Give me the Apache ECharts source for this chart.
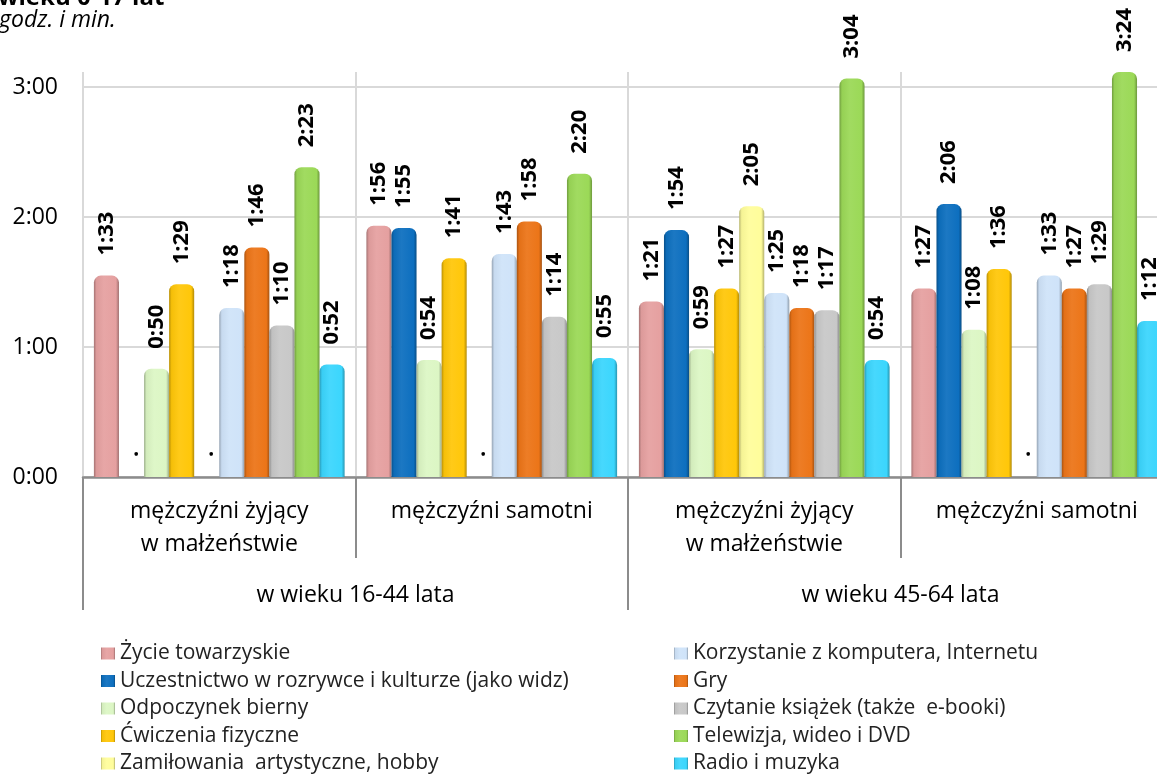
<!DOCTYPE html>
<html>
<head>
<meta charset="utf-8">
<script src="https://cdn.jsdelivr.net/npm/echarts@6/dist/echarts.min.js"></script>
<style>
  html, body { margin: 0; padding: 0; background: #fff; }
  #chart { width: 1157px; height: 777px; }
</style>
</head>
<body>
<div id="chart"></div>
<script>
// kategorie osi X (dwa poziomy)
const groups = ['mężczyźni żyjący\nw małżeństwie', 'mężczyźni samotni', 'mężczyźni żyjący\nw małżeństwie', 'mężczyźni samotni']
const ageGroups = ['w wieku 16-44 lata', 'w wieku 45-64 lata']

const seriesNames = [
  'Życie towarzyskie',
  'Uczestnictwo w rozrywce i kulturze (jako widz)',
  'Odpoczynek bierny',
  'Ćwiczenia fizyczne',
  'Zamiłowania  artystyczne, hobby',
  'Korzystanie z komputera, Internetu',
  'Gry',
  'Czytanie książek (także  e-booki)',
  'Telewizja, wideo i DVD',
  'Radio i muzyka'
]

// wartości w minutach, null = brak danych (kropka)
const zycie = [93, 116, 81, 87]
const uczestnictwo = [null, 115, 114, 126]
const odpoczynek = [50, 54, 59, 68]
const cwiczenia = [89, 101, 87, 96]
const zamilowania = [null, null, 125, null]
const komputer = [78, 103, 85, 93]
const gry = [106, 118, 78, 87]
const czytanie = [70, 74, 77, 89]
const telewizja = [143, 140, 184, 204]
const radio = [52, 55, 54, 72]

const yTicks = [0, 60, 120, 180]

const seriesValues = [zycie, uczestnictwo, odpoczynek, cwiczenia, zamilowania, komputer, gry, czytanie, telewizja, radio]
const colors = ['#E5A0A0', '#0D6FBF', '#DCF6C4', '#FFC709', '#FFFD9B', '#CFE3F9', '#EC7518', '#C8C8C8', '#9BD957', '#3BD6FD']

const FONT = '"Open Sans", "DejaVu Sans", sans-serif'

const fmtTime = (m) => Math.floor(m / 60) + ':' + String(Math.round(m % 60)).padStart(2, '0')

// przyciemnienie / rozjaśnienie koloru
const shade = (hex, f) => {
  const n = parseInt(hex.slice(1), 16)
  let r = (n >> 16) & 255, g = (n >> 8) & 255, b = n & 255
  if (f < 0) {
    r = Math.round(r * (1 + f)); g = Math.round(g * (1 + f)); b = Math.round(b * (1 + f))
  } else {
    r = Math.round(r + (255 - r) * f); g = Math.round(g + (255 - g) * f); b = Math.round(b + (255 - b) * f)
  }
  return 'rgb(' + r + ',' + g + ',' + b + ')'
}

const cylinder = (c) => new echarts.graphic.LinearGradient(0, 0, 1, 0, [
  { offset: 0, color: shade(c, -0.28) },
  { offset: 0.1, color: shade(c, -0.04) },
  { offset: 0.4, color: shade(c, 0.06) },
  { offset: 0.88, color: c },
  { offset: 1, color: shade(c, -0.3) }
])

const chart = echarts.init(document.getElementById('chart'))

const series = seriesNames.map((name, i) => ({
  name,
  type: 'bar',
  xAxisIndex: 0,
  barGap: '0%',
  barCategoryGap: '8%',
  clip: true,
  itemStyle: { color: cylinder(colors[i]), borderRadius: [7, 7, 0, 0] },
  label: {
    show: true,
    position: 'top',
    distance: 20,
    rotate: 90,
    align: 'left',
    verticalAlign: 'middle',
    fontFamily: FONT,
    fontWeight: 'bold',
    fontSize: 22,
    color: '#000',
    formatter: (p) => seriesValues[i][p.dataIndex] == null ? '.' : fmtTime(p.value)
  },
  data: seriesValues[i].map(v => v == null ? 0 : v)
}))

const legendStyle = {
  orient: 'vertical',
  icon: 'rect',
  itemWidth: 14,
  itemHeight: 12,
  itemGap: 6.5,
  height: 140,
  textStyle: { fontFamily: FONT, fontSize: 21, lineHeight: 21, color: '#222' }
}

chart.setOption({
  animation: false,
  backgroundColor: '#fff',
  graphic: [
    { type: 'text', left: -2, top: -14, style: { text: 'wieku 0-17 lat', font: 'bold 24px ' + FONT, fill: '#000' } },
    { type: 'text', left: -1, top: 9, style: { text: 'godz. i min.', font: 'italic 23px ' + FONT, fill: '#000' } }
  ],
  grid: { left: 83, top: 72, width: 1090, height: 405, outerBoundsMode: 'none' },
  legend: [
    Object.assign({ left: 96, top: 638, data: seriesNames.slice(0, 5) }, legendStyle),
    Object.assign({ left: 669, top: 638, data: seriesNames.slice(5) }, legendStyle)
  ],
  xAxis: [
    {
      type: 'category',
      data: groups,
      position: 'bottom',
      axisLine: { show: true, lineStyle: { color: '#8c8c8c', width: 2.5 } },
      axisTick: { show: true, interval: 0, length: 81, lineStyle: { color: '#8c8c8c', width: 2 } },
      axisLabel: { interval: 0, margin: 18, fontFamily: FONT, fontSize: 23, lineHeight: 33, color: '#000' },
      splitLine: { show: true, interval: 0, lineStyle: { color: '#d9d9d9', width: 2 } }
    },
    {
      type: 'category',
      data: ageGroups,
      position: 'bottom',
      gridIndex: 0,
      axisLine: { show: false },
      axisTick: { show: true, interval: 0, length: 133, lineStyle: { color: '#8c8c8c', width: 2 } },
      axisLabel: { interval: 0, margin: 102, fontFamily: FONT, fontSize: 23, lineHeight: 33, color: '#000' },
      splitLine: { show: false }
    }
  ],
  yAxis: {
    type: 'value',
    min: yTicks[0],
    max: 187,
    interval: 60,
    axisLine: { show: false },
    axisTick: { show: false },
    axisLabel: {
      margin: 25,
      fontFamily: FONT,
      fontSize: 23,
      color: '#000',
      formatter: (v) => yTicks.includes(v) ? fmtTime(v) : ''
    },
    splitLine: { show: true, showMaxLine: false, lineStyle: { color: '#d9d9d9', width: 2 } }
  },
  series
})
</script>
</body>
</html>
